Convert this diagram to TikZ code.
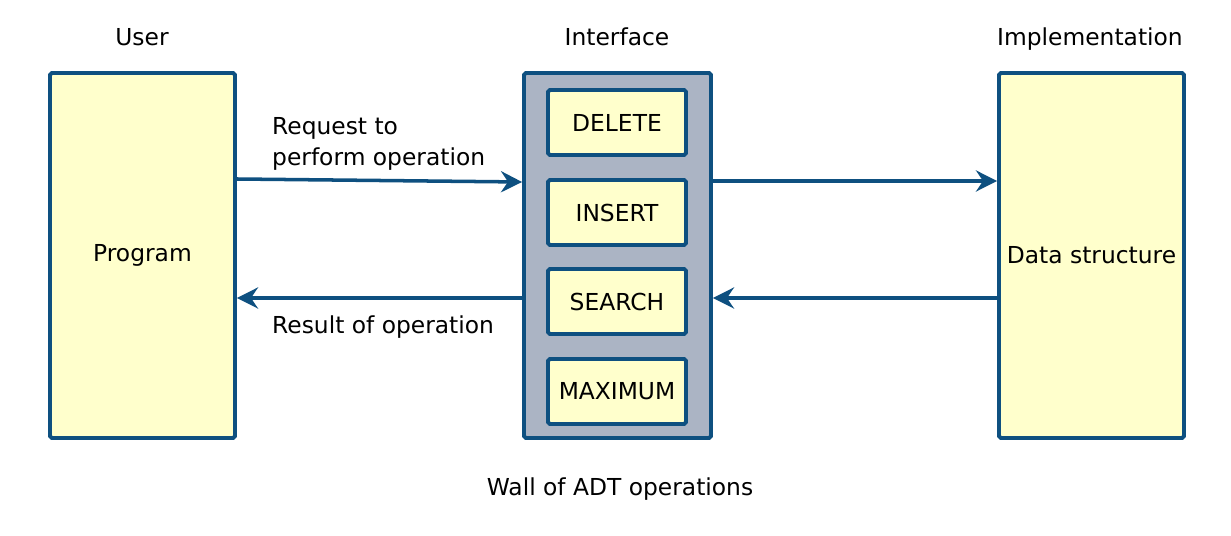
\documentclass[tikz,border=0pt]{standalone}
\usepackage{fontspec}
\setmainfont{DejaVu Sans}
\usetikzlibrary{positioning, arrows.meta, calc}
\definecolor{wallblue}{HTML}{0E5080}
\definecolor{boxyellow}{HTML}{FFFFCC}
\definecolor{wallgray}{HTML}{ABB4C4}

\begin{document}
\begin{tikzpicture}[x=0.02cm, y=-0.02cm,
    font=\fontsize{13.3}{16.5}\selectfont,
    bigbox/.style={draw=wallblue, line width=2.2pt, fill=boxyellow, rounded corners=1pt,
      minimum width=3.7cm, minimum height=7.3cm, inner sep=0pt},
    opbox/.style={draw=wallblue, line width=2.2pt, fill=boxyellow, rounded corners=1pt,
      minimum width=2.76cm, minimum height=1.3cm, inner sep=0pt},
    flow/.style={draw=wallblue, line width=2pt,
      -{Stealth[length=12pt, width=12pt, inset=4pt]}}]
    \useasboundingbox (0,0) rectangle (1231,536);

    % three columns
    \node[bigbox] (prog) at (142.5,255.5) {Program};
    \node[bigbox, fill=wallgray, minimum width=3.74cm] (wall) at (617.5,255.5) {};
    \node[bigbox] (data) at (1091.5,255.5) {Data structure};

    \node[anchor=base] (user) at (142,46) {User};
    \node[anchor=base] (iface) at (617,46) {Interface};
    \node[anchor=base] (impl) at (1090,46) {Implementation};

    % operations in the wall
    \node[opbox] (delete) at (617,122.5) {DELETE};
    \node[opbox] (insert) at (617,212.5) {INSERT};
    \node[opbox] (search) at (617,301.5) {SEARCH};
    \node[opbox] (maximum) at (617,391.5) {MAXIMUM};

    \node[anchor=base] (wallname) at (620,496) {Wall of ADT operations};

    % requests and results
    \draw[flow] (prog.east |- 0,179) -- (wall.west |- 0,182);
    \draw[flow] (wall.west |- 0,298) -- (prog.east |- 0,298);
    \draw[flow] (wall.east |- 0,181) -- (data.west |- 0,181);
    \draw[flow] (data.west |- 0,298) -- (wall.east |- 0,298);

    \node[align=left, anchor=west, font=\fontsize{13.3}{18}\selectfont] (request) at (266,144) {Request to\\perform operation};
    \node[anchor=west] (result) at (266,327) {Result of operation};
  \end{tikzpicture}
\end{document}
